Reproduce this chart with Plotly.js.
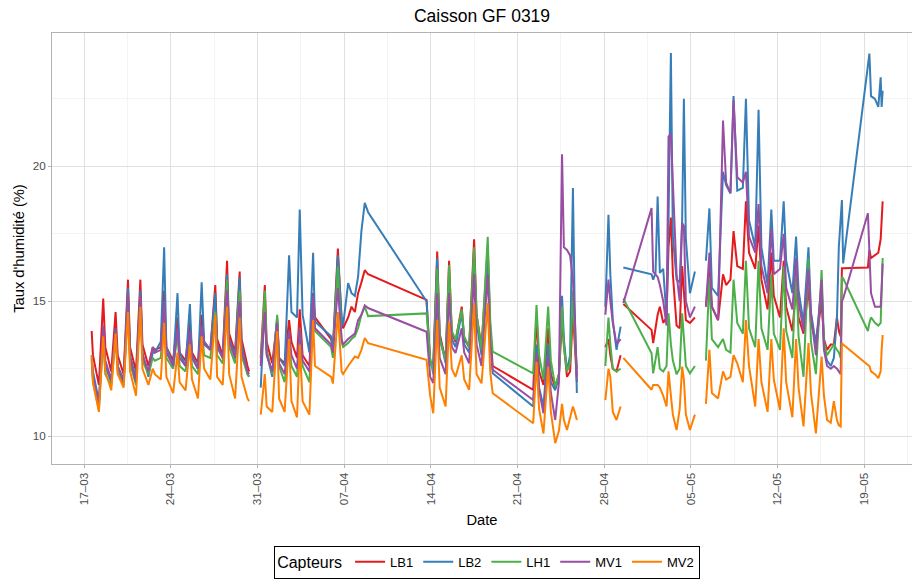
<!DOCTYPE html>
<html><head><meta charset="utf-8">
<script src="https://cdn.plot.ly/plotly-3.0.1.min.js"></script>
<style>html,body{margin:0;padding:0;background:#fff}#chart{width:912px;height:585px}</style>
</head><body><div id="chart"></div>
<script>
// Time of each reading, in days after 17-03-2019 00:00 (null values = missing readings)
const dayOffsets = [
 0.62,0.72, 1.2,1.55,1.72, 2.2,2.55,2.72, 3.2,3.55,3.72, 4.2,4.55,4.72, 5.2,5.55,5.72,
 6.2,6.47,6.65, 7.2,7.55,7.72, 8.2,8.55,8.72, 9.2,9.5,9.7, 10.2,10.6,10.75, 11.2,11.55,11.72,
 12.2,12.57,12.72, 13.2,13.33, 13.8,
 14.27,14.6,14.75, 15.2,15.6,15.75, 16.2,16.56,16.75, 17.2,17.42,17.65, 18.2,18.5,18.65,
 19.95,20.1,20.5,20.8,20.92,21.33,21.6,21.87,22.13,22.4,22.67,22.94,
 27.66,27.95,28.2,28.52,28.72,29.2,29.48,29.7,30.0,30.5,30.7,31.1,31.5,31.7,32.1,32.6,32.8,33.0,
 36.27,36.54,36.75,37.1,37.48,37.7,38.05,38.35,38.6,38.75,39.0,39.25,39.48,39.62,39.8, 40.5,
 42.1,42.35,42.5,42.7,43.0,43.33, 43.45,
 43.55,45.83,45.96,46.15,46.32,46.5,46.77,47.04,47.2,47.39,47.55,47.85,48.1,48.3,48.44,48.6,48.93,49.33, 49.8,
 50.22,50.5,50.7, 51.2,51.6,51.85, 52.2,52.45,52.75, 53.2,53.45,53.7, 54.2,54.47,54.7,
 55.2,55.5,55.7, 56.2,56.5,56.7, 57.2,57.5,57.7, 58.1,58.5,58.7, 59.1,59.56,59.75,
 60.0,60.3,60.55,60.8,60.95,61.1,61.2,
 61.3,63.3,63.42,63.55,63.87,64.14,64.33,64.41,64.49
];

const LB1 = [
 13.9,13.0, 11.9,15.1,13.3, 12.4,14.6,13.0, 12.3,15.8,13.3, 12.4,15.8,13.4, 12.6,13.3,13.2,
 13.3,15.4,13.3, 12.8,14.4,13.1, 12.8,14.2,13.1, 12.7,14.5,13.5, 13.2,15.6,13.6, 13.0,16.5,13.8,
 13.1,16.1,13.6, 12.6,12.4, null,
 12.9,15.6,13.5, 12.7,14.3,12.9, 12.7,14.3,13.5, 12.9,14.7,13.0, 12.6,15.3,14.4,
 13.6,13.3,16.95,14.3,14.0,14.4,14.8,14.6,15.3,15.7,16.15,16.0,
 15.05,12.8,12.6,16.84,13.8,12.8,16.5,13.8,13.5,14.8,13.6,13.3,17.3,14.5,13.3,17.0,14.0,12.6,
 11.72,14.5,12.4,11.9,14.0,12.3,11.8,12.3,14.3,13.4,12.2,12.4,14.6,13.5,12.0, null,
 13.3,13.6,13.0,12.5,12.4,13.0, null,
 14.9,13.94,13.45,14.0,14.5,14.8,14.2,14.4,17.0,18.1,16.0,14.1,14.0,16.3,15.5,14.3,14.2,14.4, null,
 14.8,16.2,14.8, 14.3,16.0,15.6, 15.8,17.6,16.3, 16.2,18.7,16.8, 16.2,17.8,15.8,
 14.7,16.8,15.2, 14.4,16.5,14.8, 13.9,15.5,14.4, 13.8,15.5,14.2, 13.5,15.0,13.6,
 13.2,13.4,13.4,14.4,13.9,13.7,16.22,
 16.22,16.25,16.9,16.6,16.7,16.8,17.3,18.2,18.7
];

const LB2 = [
 13.0,12.4, 11.3,14.0,12.6, 12.0,14.0,12.6, 12.1,15.5,13.0, 12.1,15.4,13.1, 12.2,13.1,13.1,
 13.5,17.0,13.3, 12.6,15.3,13.1, 12.6,14.9,13.0, 12.5,15.7,13.5, 13.2,15.3,13.4, 12.9,16.0,13.6,
 13.0,15.9,13.4, 12.3,12.2, null,
 11.8,15.0,13.1, 12.2,14.4,12.9, 12.6,16.7,14.6, 14.4,18.4,14.5, 13.1,16.8,14.25,
 13.7,13.2,16.7,14.4,14.1,15.67,15.3,15.2,15.9,17.6,18.65,18.3,
 15.0,12.7,12.5,16.6,13.7,12.7,16.0,13.6,13.3,14.6,13.4,13.1,16.6,14.2,13.0,16.6,13.8,12.33,
 11.1,13.4,11.8,11.1,13.4,12.0,11.7,12.2,15.2,13.6,12.4,13.0,19.2,14.8,11.6, null,
 14.8,18.2,16.0,14.3,13.2,14.06, null,
 16.25,16.0,15.8,16.05,18.88,16.05,16.2,14.4,18.0,24.2,17.4,15.8,15.7,18.0,22.5,17.3,15.3,16.1, null,
 16.5,18.44,15.5, 15.2,19.8,19.3, 19.0,22.6,19.1, 19.2,22.5,18.0, 17.0,22.1,17.0,
 15.6,18.4,16.5, 16.5,18.7,16.5, 15.3,17.4,15.4, 14.2,17.0,14.6, 13.4,15.6,13.3,
 12.8,12.6,12.9,14.4,17.0,17.9,18.75,
 16.4,23.8,24.18,22.6,22.5,22.2,23.3,22.2,22.8
];

const LH1 = [
 12.8,12.0, 11.0,13.6,12.3, 11.9,13.7,12.4, 11.9,15.0,12.7, 11.9,15.0,12.8, 12.3,12.9,12.8,
 12.9,14.6,12.9, 12.5,13.8,12.6, 12.4,13.6,12.6, 12.3,14.0,13.0, 12.9,14.6,13.0, 12.7,15.8,13.3,
 12.7,15.4,13.0, 12.3,12.2, null,
 12.7,15.4,13.2, 12.3,14.5,12.6, 12.0,13.5,12.6, 12.2,14.0,12.6, 12.0,14.8,13.9,
 13.3,12.9,16.3,13.5,13.3,13.45,13.6,13.7,14.0,14.5,14.8,14.45,
 14.55,12.9,12.3,16.2,13.6,12.8,16.34,13.9,13.57,14.7,13.7,13.3,17.0,14.5,13.2,17.39,14.3,13.13,
 12.33,14.86,13.0,12.1,14.8,12.8,11.84,12.3,14.8,13.3,12.4,12.7,15.4,13.7,12.5, null,
 12.6,14.4,13.4,12.5,12.4,12.5, null,
 15.1,13.07,12.33,12.9,13.3,12.5,12.4,12.6,14.55,13.4,12.8,12.3,12.5,14.55,13.5,12.6,12.33,12.6, null,
 12.8,15.9,13.6, 13.3,13.6,13.2, 13.1,15.8,14.2, 13.8,16.5,14.0, 13.3,16.5,14.0,
 13.2,16.0,13.8, 13.2,16.3,13.9, 12.9,16.2,13.7, 12.2,16.6,13.5, 12.3,16.16,13.5,
 13.0,13.2,13.4,13.2,13.1,12.9,15.9,
 15.85,13.9,14.2,14.4,14.2,14.1,14.2,15.3,16.6
];

const MV1 = [
 12.9,12.2, 11.2,14.1,12.8, 12.1,13.9,12.6, 12.0,15.2,12.9, 12.0,15.2,13.0, 12.4,13.3,13.1,
 13.2,15.0,13.1, 12.6,14.0,12.9, 12.6,13.9,12.9, 12.5,14.1,13.4, 13.2,14.3,13.3, 12.9,15.4,13.5,
 12.9,15.0,13.2, 12.4,12.3, null,
 12.6,14.6,13.0, 12.4,14.2,12.7, 12.3,13.9,13.0, 12.5,14.0,12.8, 12.4,15.2,14.0,
 13.4,13.1,15.5,13.6,13.4,13.6,13.7,13.8,14.3,14.5,14.85,14.75,
 13.87,12.2,11.97,15.3,12.9,12.3,15.3,13.3,13.08,14.0,13.1,12.7,16.0,13.4,12.6,16.0,13.4,12.46,
 11.34,13.1,11.7,10.85,13.0,11.6,10.6,12.0,20.45,17.0,16.9,16.7,15.8,14.5,12.2, null,
 14.5,15.8,15.0,14.2,13.4,13.6, null,
 14.93,18.45,16.1,16.0,15.9,15.6,15.0,14.1,21.1,21.2,19.6,16.0,15.0,17.9,17.8,15.0,14.4,14.8, null,
 14.8,16.8,14.8, 14.3,21.7,19.4, 19.0,22.45,19.6, 19.4,19.8,17.4, 16.8,18.6,16.3,
 15.3,17.7,16.0, 16.2,17.5,15.5, 14.7,16.6,15.0, 13.9,16.2,14.5, 13.0,15.8,13.2,
 12.6,12.5,12.6,12.5,12.4,12.3,15.0,
 15.1,18.26,16.8,15.3,14.8,14.8,14.8,15.5,16.4
];

const MV2 = [
 13.0,12.0, 10.9,13.7,12.4, 11.7,13.8,12.3, 11.8,14.6,12.4, 11.5,14.8,12.5, 11.9,12.5,12.3,
 12.1,14.2,12.2, 11.6,13.1,12.0, 11.7,13.4,12.1, 11.4,13.7,12.5, 12.1,14.5,12.2, 11.9,14.8,12.3,
 11.4,14.4,12.2, 11.4,11.3, null,
 10.8,12.3,11.1, 10.9,13.9,11.4, 10.9,13.6,11.3, 10.7,13.4,11.3, 10.8,14.3,12.6,
 12.2,11.95,14.6,12.4,12.3,12.6,12.8,12.95,12.9,13.2,13.64,13.45,
 12.83,11.5,10.85,14.3,11.8,11.1,14.24,12.5,12.2,13.0,12.1,11.72,14.93,12.3,11.96,14.93,12.4,11.59,
 10.48,12.76,11.0,10.1,12.58,10.9,9.74,10.2,11.2,10.6,10.23,10.7,11.1,10.9,10.6, null,
 11.34,12.5,12.2,10.9,10.6,11.1, null,
 12.9,11.72,11.9,11.9,11.9,11.8,11.5,11.1,12.4,11.5,10.8,10.23,11.0,12.58,12.1,10.8,10.23,10.8, null,
 11.2,13.2,11.6, 11.4,12.4,12.1, 12.2,13.0,12.7, 12.0,14.3,12.6, 11.1,13.6,12.0,
 10.9,13.6,12.1, 10.97,14.0,12.0, 10.7,13.6,11.8, 10.36,13.45,11.6, 10.1,12.95,11.5,
 10.6,10.5,11.3,10.6,10.4,10.36,13.44,
 13.4,12.64,12.6,12.4,12.3,12.15,12.4,13.2,13.75
];

const seriesNames = ['LB1', 'LB2', 'LH1', 'MV1', 'MV2'];
const seriesValues = [LB1, LB2, LH1, MV1, MV2];
const seriesColors = ['#E41A1C', '#377EB8', '#4DAF4A', '#984EA3', '#FF7F00'];

const base = Date.UTC(2019, 2, 17);
const DAY = 86400000;
const toDate = d => new Date(base + d * DAY).toISOString().replace('T', ' ').slice(0, 19);
const xDates = dayOffsets.map(toDate);

const traces = seriesNames.map((name, i) => ({
  type: 'scatter', mode: 'lines', name: name,
  x: xDates, y: seriesValues[i],
  line: {color: seriesColors[i], width: 2},
  connectgaps: false
}));

const fontFam = 'Liberation Sans, Arial, Helvetica, sans-serif';
const layout = {
  width: 912, height: 585,
  margin: {l: 52, r: 0, t: 33, b: 121},
  paper_bgcolor: '#ffffff', plot_bgcolor: '#ffffff',
  font: {family: fontFam, color: '#000000'},
  showlegend: true,
  title: {text: 'Caisson GF 0319', x: 0.5, xref: 'paper', xanchor: 'center',
          y: 1 - 16 / 585, yref: 'container', yanchor: 'middle',
          font: {family: fontFam, size: 17.5, color: '#000000'}},
  xaxis: {
    type: 'date', range: [toDate(-2.585), toDate(66.86)],
    tick0: '2019-03-17', dtick: 7 * DAY, tickformat: '%d–%m', tickangle: -90,
    ticks: 'outside', ticklen: 3, tickwidth: 1, tickcolor: '#b3b3b3',
    tickfont: {family: fontFam, size: 11.7, color: '#4d4d4d'},
    showgrid: true, gridcolor: '#e0e0e0', gridwidth: 1,
    minor: {tick0: '2019-03-17', dtick: 3.5 * DAY, showgrid: true, gridcolor: '#ededed', gridwidth: 0.6, ticks: ''},
    showline: true, linecolor: '#b3b3b3', linewidth: 1, mirror: true, zeroline: false,
    title: {text: 'Date', standoff: 10, font: {family: fontFam, size: 14.7, color: '#000000'}}
  },
  yaxis: {
    range: [8.97, 24.94], tick0: 0, dtick: 5,
    ticks: 'outside', ticklen: 3, tickwidth: 1, tickcolor: '#b3b3b3',
    tickfont: {family: fontFam, size: 11.7, color: '#4d4d4d'},
    showgrid: true, gridcolor: '#e0e0e0', gridwidth: 1,
    minor: {tick0: 0, dtick: 2.5, showgrid: true, gridcolor: '#ededed', gridwidth: 0.6, ticks: ''},
    showline: true, linecolor: '#b3b3b3', linewidth: 1, mirror: true, zeroline: false,
    title: {text: "Taux d'humidité (%)", standoff: 4, font: {family: fontFam, size: 14.7, color: '#000000'}}
  },
  legend: {
    orientation: 'h', x: 0.506, xanchor: 'center', y: -0.19, yanchor: 'top',
    bgcolor: '#ffffff', bordercolor: '#000000', borderwidth: 1,
    title: {text: 'Capteurs', font: {family: fontFam, size: 16, color: '#000000'}},
    font: {family: fontFam, size: 13, color: '#000000'}
  }
};

Plotly.newPlot('chart', traces, layout, {staticPlot: true, displayModeBar: false});
</script>
</body></html>
